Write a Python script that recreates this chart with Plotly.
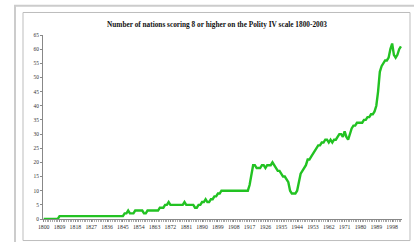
import plotly.graph_objects as go

# ---- data -------------------------------------------------------------
years = list(range(1800, 2004))

counts_1800_1849 = [0]*9 + [1]*37 + [2, 2, 3, 2]          # 1800-1849
counts_1850_1899 = [2, 2, 3, 3, 3, 3, 3, 2, 2, 3,
                    3, 3, 3, 3, 3, 3, 4, 4, 4, 5,
                    5, 6, 5, 5, 5, 5, 5, 5, 5, 5,
                    6, 5, 5, 5, 5, 5, 4, 4, 5, 5,
                    6, 6, 7, 6, 6, 7, 7, 8, 8, 9]
counts_1900_1949 = [9, 10, 10, 10, 10, 10, 10, 10, 10, 10,
                    10, 10, 10, 10, 10, 10, 10, 12, 16, 19,
                    19, 18, 18, 18, 19, 19, 18, 19, 19, 19,
                    20, 19, 18, 17, 17, 16, 15, 15, 14, 13,
                    10, 9, 9, 9, 10, 13, 16, 17, 18, 19]
counts_1950_2003 = [21, 21, 22, 23, 24, 25, 26, 26, 27, 27,
                    28, 28, 27, 28, 27, 28, 28, 29, 30, 30,
                    29, 31, 29, 28, 30, 32, 33, 33, 34, 34,
                    34, 34, 35, 35, 36, 36, 37, 37, 38, 40,
                    45, 52, 54, 55, 56, 56, 57, 60, 62, 58,
                    57, 58, 60, 61]
counts = counts_1800_1849 + counts_1850_1899 + counts_1900_1949 + counts_1950_2003

x_tick_years = list(range(1800, 2004, 9))
y_ticks = list(range(0, 70, 5))

title_text = "Number of nations scoring 8 or higher on the Polity IV scale 1800-2003"

# ---- layout geometry (pixels) ----------------------------------------
W, H = 414, 242
ML, MR, MT, MB = 43, 12, 35, 19
PW, PH = W - ML - MR, H - MT - MB


def px_x(px):
    return (px - ML) / PW


def px_y(py):
    return (H - MB - py) / PH


fig = go.Figure()
fig.add_trace(go.Scatter(
    x=years, y=counts, mode="lines",
    line=dict(color="#22c222", width=2.4),
    hoverinfo="x+y", showlegend=False,
))

fig.update_layout(
    width=W, height=H,
    margin=dict(l=ML, r=MR, t=MT, b=MB),
    paper_bgcolor="white", plot_bgcolor="white",
    font=dict(family="Liberation Serif", color="#222222"),
    title=dict(text="<b>" + title_text + "</b>", x=px_x(217), xref="paper",
               xanchor="center", y=1 - 24 / H, yanchor="middle",
               font=dict(size=7.3, family="Liberation Serif", color="#111111")),
    xaxis=dict(range=[1799.6, 2003.6], tickmode="array", tickvals=x_tick_years,
               ticktext=[str(v) for v in x_tick_years],
               tickfont=dict(size=5.8, family="Liberation Serif", color="#333333"),
               showgrid=False, zeroline=False, showline=True, linecolor="#888888",
               linewidth=1, ticks="outside", ticklen=2, tickcolor="#888888",
               minor=dict(dtick=1, tick0=1800, ticks="outside", ticklen=2,
                          tickcolor="#aaaaaa", showgrid=False),
               fixedrange=True),
    yaxis=dict(range=[0, 65], tickmode="array", tickvals=y_ticks,
               tickfont=dict(size=5.4, family="Liberation Serif", color="#333333"),
               showgrid=False, zeroline=False, showline=True, linecolor="#888888",
               linewidth=1, ticks="outside", ticklen=2, tickcolor="#888888",
               fixedrange=True),
    shapes=[
        dict(type="rect", xref="paper", yref="paper",
             x0=px_x(15), x1=px_x(420), y0=px_y(248), y1=px_y(5),
             line=dict(color="#cccccc", width=2), layer="below"),
        dict(type="rect", xref="paper", yref="paper",
             x0=px_x(23), x1=px_x(410), y0=px_y(245), y1=px_y(12),
             line=dict(color="#bdbdbd", width=1), layer="below"),
    ],
)

fig.write_html(
    "out.html",
    config={"displayModeBar": False},
    post_script="document.body.style.margin='0';document.body.style.padding='0';",
)
